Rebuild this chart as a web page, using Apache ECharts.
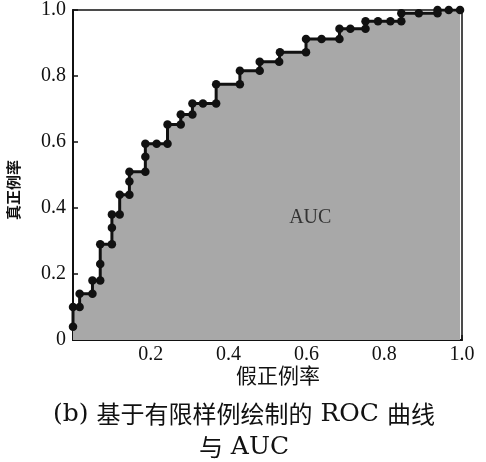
<!DOCTYPE html>
<html><head><meta charset="utf-8">
<script src="https://cdn.jsdelivr.net/npm/echarts@6/dist/echarts.min.js"></script>
<style>html,body{margin:0;padding:0;background:#fff}#c{width:486px;height:462px}</style>
</head><body><div id="c"></div>
<script>
// ROC curve points (false positive rate, true positive rate)
const fpr = [0, 0, 0.017, 0.017, 0.05, 0.05, 0.07, 0.07, 0.07, 0.10, 0.10, 0.10, 0.12, 0.12, 0.145, 0.145, 0.145, 0.186, 0.186, 0.186, 0.215, 0.243, 0.243, 0.277, 0.277, 0.307, 0.307, 0.334, 0.368, 0.368, 0.429, 0.429, 0.48, 0.48, 0.53, 0.532, 0.599, 0.599, 0.639, 0.685, 0.685, 0.713, 0.752, 0.752, 0.784, 0.816, 0.844, 0.844, 0.889, 0.937, 0.937, 0.966, 0.995];
const tpr = [0.04, 0.10, 0.10, 0.14, 0.14, 0.18, 0.18, 0.23, 0.29, 0.29, 0.34, 0.38, 0.38, 0.44, 0.44, 0.48, 0.51, 0.51, 0.555, 0.595, 0.595, 0.595, 0.653, 0.653, 0.683, 0.683, 0.717, 0.717, 0.717, 0.775, 0.775, 0.816, 0.816, 0.843, 0.843, 0.872, 0.872, 0.912, 0.912, 0.912, 0.943, 0.943, 0.943, 0.966, 0.966, 0.966, 0.966, 0.99, 0.99, 0.99, 1.0, 1.0, 1.0];
const xTicks = ['', '0.2', '0.4', '0.6', '0.8', '1.0'];
const yTicks = ['0', '0.2', '0.4', '0.6', '0.8', '1.0'];
const xName = '假正例率';
const yName = '真正例率';
const areaLabel = 'AUC';
const captionLine1 = [['lat', '(b) '], ['cjk', '基于有限样例绘制的'], ['lat', ' ROC '], ['cjk', '曲线']];
const captionLine2 = [['cjk', '与'], ['lat', ' AUC']];

const serif = '"Liberation Serif", "DejaVu Serif", serif';
const mixed = '"Liberation Serif", "Noto Sans CJK SC", serif';
const richStyles = {
  lat: { fontFamily: '"DejaVu Serif", serif', fontSize: 25, fill: '#111' },
  cjk: { fontFamily: '"Noto Sans CJK SC", serif', fontSize: 24, fill: '#111' }
};
const toRich = (parts) => parts.map(([k, t]) => '{' + k + '|' + t + '}').join('');

const chart = echarts.init(document.getElementById('c'));
const pts = fpr.map((x, i) => [x, tpr[i]]);
chart.setOption({
  animation: false,
  grid: { left: 73, right: 24, top: 9, bottom: 122, show: true, borderColor: '#111', borderWidth: 1.5, backgroundColor: 'transparent' },
  xAxis: {
    type: 'value', min: 0, max: 1, interval: 0.2,
    axisLine: { lineStyle: { color: '#111', width: 2 } },
    axisTick: { inside: true, length: 5, lineStyle: { color: '#111', width: 1.5 } },
    splitLine: { show: false },
    axisLabel: { color: '#111', fontFamily: serif, fontSize: 20, margin: 5, formatter: (v) => xTicks[Math.round(v / 0.2)] }
  },
  yAxis: {
    type: 'value', min: 0, max: 1, interval: 0.2,
    axisLine: { lineStyle: { color: '#111', width: 2 } },
    axisTick: { inside: true, length: 5, lineStyle: { color: '#111', width: 1.5 } },
    splitLine: { show: false },
    axisLabel: { color: '#111', fontFamily: serif, fontSize: 20, margin: 7, formatter: (v) => yTicks[Math.round(v / 0.2)] }
  },
  series: [{
    type: 'line', data: pts,
    symbol: 'circle', symbolSize: 8.5, showSymbol: true,
    itemStyle: { color: '#111' },
    lineStyle: { color: '#111', width: 3 },
    areaStyle: { color: '#a8a8a8', opacity: 1, origin: 'start' },
    markPoint: {
      symbol: 'rect', symbolSize: 0,
      label: { show: true, formatter: areaLabel, color: '#333', fontFamily: serif, fontSize: 20, position: 'inside' },
      data: [{ coord: [0.61, 0.37] }]
    }
  }],
  graphic: [
    { type: 'text', x: 15, y: 190, rotation: Math.PI / 2, style: { text: yName, fontFamily: mixed, fontSize: 15, fontWeight: 'bold', fill: '#111', textAlign: 'center', textVerticalAlign: 'middle' } },
    { type: 'text', x: 278, y: 377, style: { text: xName, fontFamily: mixed, fontSize: 21, fill: '#111', textAlign: 'center', textVerticalAlign: 'middle' } },
    { type: 'text', x: 244, y: 414, style: { text: toRich(captionLine1), rich: richStyles, textAlign: 'center', textVerticalAlign: 'middle' } },
    { type: 'text', x: 244, y: 447, style: { text: toRich(captionLine2), rich: richStyles, textAlign: 'center', textVerticalAlign: 'middle' } }
  ]
});
</script></body></html>
